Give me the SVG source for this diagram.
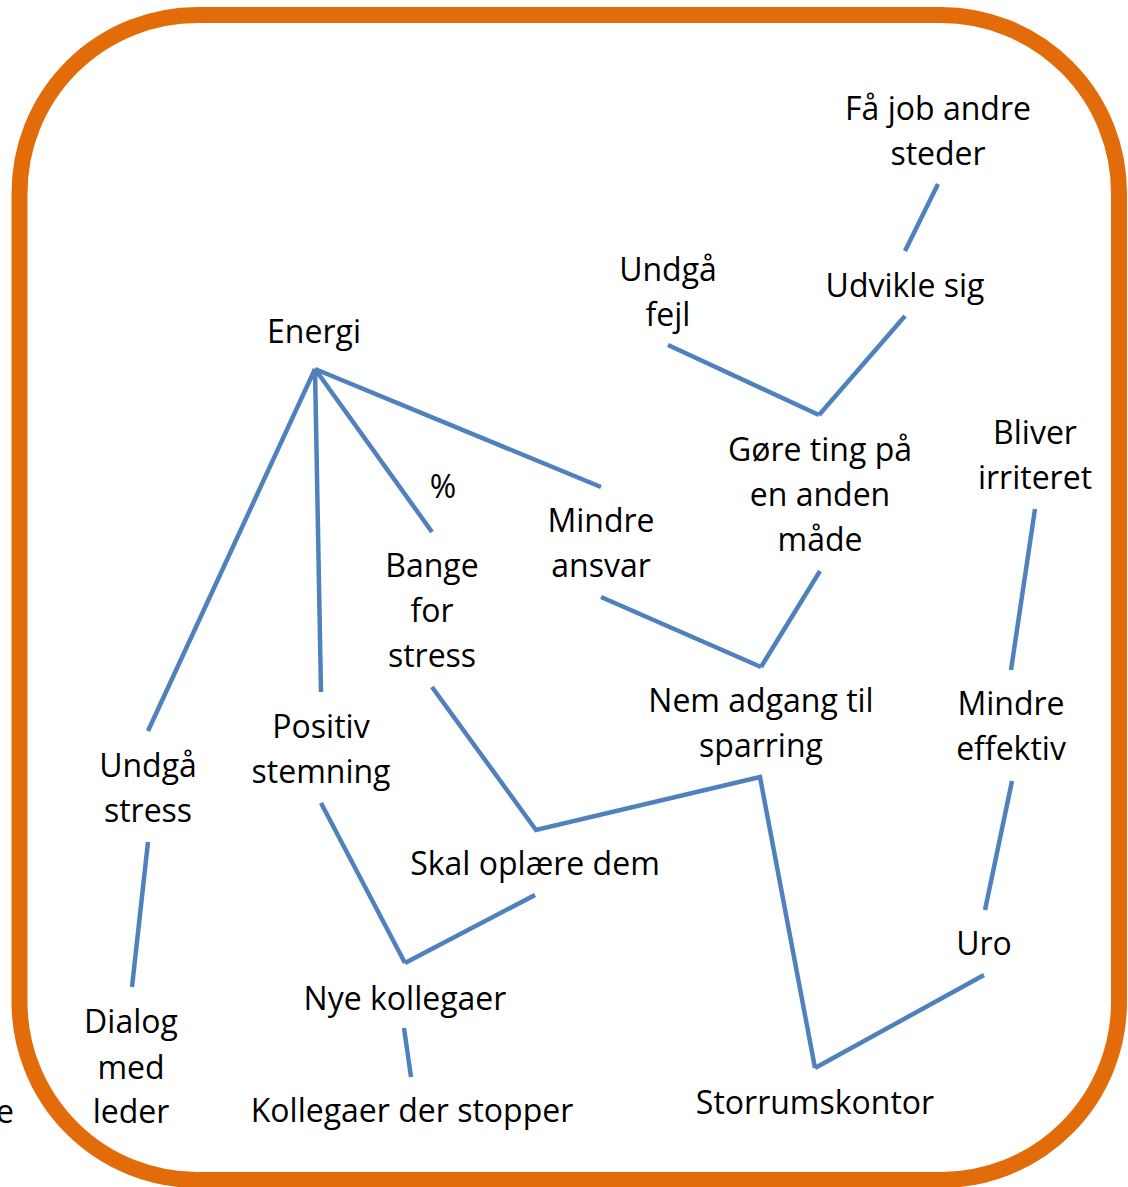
<svg xmlns="http://www.w3.org/2000/svg" width="1128" height="1187" viewBox="0 0 1128 1187">
  <style>
    .frame { fill: none; stroke: #E36C0A; stroke-width: 16; }
    .link { stroke: #4F81BD; stroke-width: 4.5; fill: none; }
    .lbl { font-family: "Open Sans", "Liberation Sans", sans-serif; font-size: 32px; fill: #000; text-anchor: middle; }
  </style>
  <rect width="1128" height="1187" fill="#fff"/>
  <rect class="frame" x="19.5" y="15" width="1099.5" height="1165" rx="178" ry="178"/>

  <g id="connectors">
    <line class="link" x1="938" y1="184" x2="905" y2="251"/>
    <line class="link" x1="905" y1="316" x2="819" y2="415"/>
    <line class="link" x1="668" y1="345" x2="819" y2="415"/>
    <line class="link" x1="315" y1="369" x2="148" y2="731"/>
    <line class="link" x1="315" y1="369" x2="321" y2="692"/>
    <line class="link" x1="315" y1="369" x2="432" y2="532"/>
    <line class="link" x1="315" y1="369" x2="601" y2="487"/>
    <line class="link" x1="601" y1="597" x2="761" y2="667"/>
    <line class="link" x1="820" y1="571" x2="761" y2="667"/>
    <line class="link" x1="1035" y1="509" x2="1011" y2="670"/>
    <line class="link" x1="1012" y1="781" x2="985" y2="910"/>
    <line class="link" x1="984" y1="975" x2="815" y2="1068"/>
    <polyline class="link" points="432,687 536,830 760,777 815,1068"/>
    <line class="link" x1="321" y1="803" x2="405" y2="963"/>
    <line class="link" x1="535" y1="895" x2="405" y2="963"/>
    <line class="link" x1="404" y1="1028" x2="411" y2="1077"/>
    <line class="link" x1="148" y1="842" x2="132" y2="987"/>
  </g>

  <g id="node-faa-job">
    <text class="lbl" x="938" y="120">Få job andre</text>
    <text class="lbl" x="938" y="165">steder</text>
  </g>
  <g id="node-undgaa-fejl">
    <text class="lbl" x="668" y="281">Undgå</text>
    <text class="lbl" x="668" y="326">fejl</text>
  </g>
  <g id="node-udvikle-sig">
    <text class="lbl" x="905" y="297">Udvikle sig</text>
  </g>
  <g id="node-energi">
    <text class="lbl" x="314" y="343">Energi</text>
  </g>
  <g id="node-goere-ting">
    <text class="lbl" x="820" y="461">Gøre ting på</text>
    <text class="lbl" x="820" y="506">en anden</text>
    <text class="lbl" x="820" y="551">måde</text>
  </g>
  <g id="node-bliver-irriteret">
    <text class="lbl" x="1035" y="444">Bliver</text>
    <text class="lbl" x="1035" y="489">irriteret</text>
  </g>
  <g id="node-procent">
    <text class="lbl" x="443" y="498">%</text>
  </g>
  <g id="node-mindre-ansvar">
    <text class="lbl" x="601" y="532">Mindre</text>
    <text class="lbl" x="601" y="577">ansvar</text>
  </g>
  <g id="node-bange">
    <text class="lbl" x="432" y="577">Bange</text>
    <text class="lbl" x="432" y="622">for</text>
    <text class="lbl" x="432" y="667">stress</text>
  </g>
  <g id="node-nem-adgang">
    <text class="lbl" x="761" y="712">Nem adgang til</text>
    <text class="lbl" x="761" y="757">sparring</text>
  </g>
  <g id="node-mindre-effektiv">
    <text class="lbl" x="1011" y="715">Mindre</text>
    <text class="lbl" x="1011" y="760">effektiv</text>
  </g>
  <g id="node-positiv">
    <text class="lbl" x="321" y="738">Positiv</text>
    <text class="lbl" x="321" y="783">stemning</text>
  </g>
  <g id="node-undgaa-stress">
    <text class="lbl" x="148" y="777">Undgå</text>
    <text class="lbl" x="148" y="822">stress</text>
  </g>
  <g id="node-skal-oplaere">
    <text class="lbl" x="535" y="875">Skal oplære dem</text>
  </g>
  <g id="node-uro">
    <text class="lbl" x="984" y="955">Uro</text>
  </g>
  <g id="node-nye-kollegaer">
    <text class="lbl" x="405" y="1010">Nye kollegaer</text>
  </g>
  <g id="node-dialog">
    <text class="lbl" x="131" y="1033">Dialog</text>
    <text class="lbl" x="131" y="1079">med</text>
    <text class="lbl" x="131" y="1123">leder</text>
  </g>
  <g id="node-kollegaer-stopper">
    <text class="lbl" x="412" y="1122">Kollegaer der stopper</text>
  </g>
  <g id="node-storrum">
    <text class="lbl" x="815" y="1114">Storrumskontor</text>
  </g>
  <g id="node-edge-fragment">
    <text class="lbl" x="14" y="1123" style="text-anchor:end">e</text>
  </g>
</svg>
